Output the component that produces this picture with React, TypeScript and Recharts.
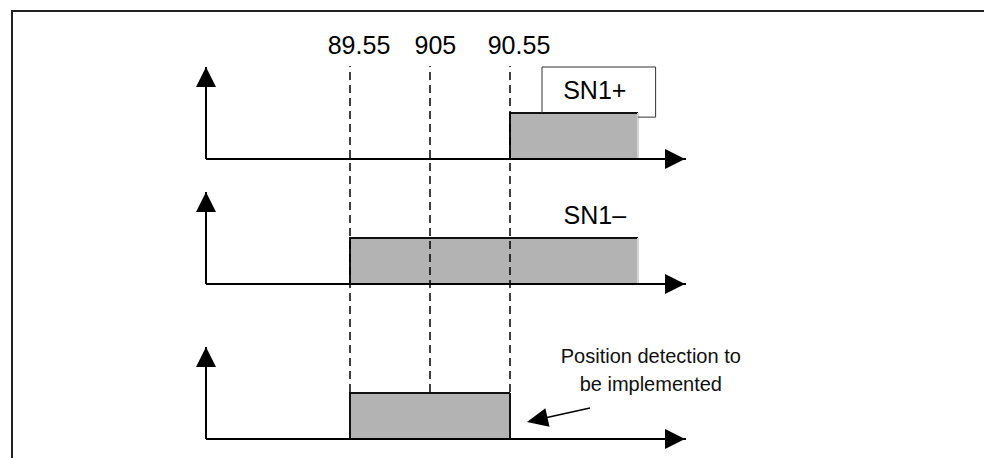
import React from "react"
import { ComposedChart, Area, Line, XAxis, YAxis, ReferenceLine, ReferenceDot } from "recharts"

document.body.style.margin = "0"

const FONT = "'Liberation Sans', Arial, sans-serif"

// time axis (position) and the three marked positions
const timeDomain = [88.65, 91.65]
const markPositions = [89.55, 90.05, 90.55]
const markLabels = ["89.55", "905", "90.55"]

// signal levels: low / high, axis top
const levelDomain = [0, 2]
const signalLow = 0
const signalHigh = 1

// pulse edges [rise, fall] per channel
const sn1PlusEdges = [90.55, 91.35]
const sn1MinusEdges = [89.55, 91.35]
const detectionEdges = [89.55, 90.55]

// channel names and where they sit (time, level)
const channelNames = ["SN1+", "SN1\u2013"]
const channelNameAt = [91.08, 1.5]

// callout box round the SN1+ name (visible edges only)
const sn1PlusBoxT = [90.75, 90.75, 91.46, 91.46, 91.35]
const sn1PlusBoxV = [1, 2, 2, 0.91, 0.91]

// note in the bottom channel
const noteLines = ["Position detection to", "be implemented"]
const noteT = 91.43
const noteV = [1.815, 1.2]
const noteArrowT = [91.05, 90.656]
const noteArrowV = [0.674, 0.37]

const pulse = (edges: number[]) => [
  { t: edges[0], v: signalLow },
  { t: edges[0], v: signalHigh },
  { t: edges[1], v: signalHigh },
  { t: edges[1], v: signalLow },
]

const UpArrow = (p: any) => (
  <polygon points={`${p.cx},${p.cy} ${p.cx - 10},${p.cy + 20} ${p.cx + 10},${p.cy + 20}`} fill="#000" />
)

const RightArrow = (p: any) => (
  <polygon points={`${p.cx - 1},${p.cy} ${p.cx - 21},${p.cy - 10} ${p.cx - 21},${p.cy + 10}`} fill="#000" />
)

const NoteArrow = (p: any) => {
  const { x1, y1, x2, y2 } = p
  const dx = x2 - x1
  const dy = y2 - y1
  const len = Math.sqrt(dx * dx + dy * dy)
  const ux = dx / len
  const uy = dy / len
  const bx = x2 - ux * 21
  const by = y2 - uy * 21
  const w = 9.5
  return (
    <g>
      <line x1={x1} y1={y1} x2={bx + ux * 4} y2={by + uy * 4} stroke="#000" strokeWidth={1.5} />
      <polygon
        points={`${x2},${y2} ${bx - uy * w},${by + ux * w} ${bx + uy * w},${by - ux * w}`}
        fill="#000"
      />
    </g>
  )
}

const nameShape = (name: string) => (p: any) => (
  <text x={p.cx} y={p.cy} textAnchor="middle" dominantBaseline="central" fontSize={25} fontFamily={FONT} fill="#000">
    {name}
  </text>
)

const noteShape = (text: string) => (p: any) => (
  <text x={p.cx} y={p.cy} textAnchor="middle" dominantBaseline="central" fontSize={20} fontFamily={FONT} fill="#111">
    {text}
  </text>
)

function Channel({ top, edges, rightEdge, children }: { top: number; edges: number[]; rightEdge: string; children?: React.ReactNode }) {
  const data = pulse(edges)
  return (
    <div style={{ position: "absolute", left: 0, top: top - 10 }}>
      <ComposedChart width={984} height={112} margin={{ top: 10, right: 298, bottom: 10, left: 206 }}>
        <XAxis type="number" dataKey="t" domain={timeDomain} allowDataOverflow hide />
        <YAxis type="number" domain={levelDomain} allowDataOverflow hide />
        <Area data={data} dataKey="v" type="linear" fill="#b3b3b3" fillOpacity={1} stroke="none" isAnimationActive={false} />
        <Line data={data.slice(0, 3)} dataKey="v" type="linear" stroke="#111" strokeWidth={2} dot={false} isAnimationActive={false} />
        <Line data={data.slice(2)} dataKey="v" type="linear" stroke={rightEdge} strokeWidth={2} dot={false} isAnimationActive={false} />
        {/* axes with arrow heads */}
        <ReferenceLine y={levelDomain[0]} stroke="#000" strokeWidth={2} ifOverflow="visible" />
        <ReferenceLine x={timeDomain[0]} stroke="#000" strokeWidth={2} ifOverflow="visible" />
        <ReferenceDot x={timeDomain[1]} y={levelDomain[0]} shape={RightArrow} ifOverflow="visible" />
        <ReferenceDot x={timeDomain[0]} y={levelDomain[1]} shape={UpArrow} ifOverflow="visible" />
        {children}
      </ComposedChart>
    </div>
  )
}

export default function App() {
  const boxSegments = sn1PlusBoxT.slice(1).map((t, i) => [
    { x: sn1PlusBoxT[i], y: sn1PlusBoxV[i] },
    { x: t, y: sn1PlusBoxV[i + 1] },
  ])

  return (
    <div style={{ position: "relative", width: 984, height: 458, background: "#fff", overflow: "hidden" }}>
      <div
        style={{
          position: "absolute",
          left: 11,
          top: 10,
          width: 973,
          height: 448,
          boxSizing: "border-box",
          borderTop: "2px solid #222",
          borderLeft: "2px solid #222",
        }}
      />

      <Channel top={67} edges={sn1PlusEdges} rightEdge="#d4d4d4">
        {boxSegments.map((seg, i) => (
          <ReferenceLine key={i} segment={seg} stroke="#333" strokeWidth={1} ifOverflow="visible" />
        ))}
        <ReferenceDot x={channelNameAt[0]} y={channelNameAt[1]} shape={nameShape(channelNames[0])} ifOverflow="visible" />
      </Channel>

      <Channel top={192} edges={sn1MinusEdges} rightEdge="#d4d4d4">
        <ReferenceDot x={channelNameAt[0]} y={channelNameAt[1]} shape={nameShape(channelNames[1])} ifOverflow="visible" />
      </Channel>

      <Channel top={347} edges={detectionEdges} rightEdge="#111">
        {noteLines.map((line, i) => (
          <ReferenceDot key={i} x={noteT} y={noteV[i]} shape={noteShape(line)} ifOverflow="visible" />
        ))}
        <ReferenceLine
          segment={[
            { x: noteArrowT[0], y: noteArrowV[0] },
            { x: noteArrowT[1], y: noteArrowV[1] },
          ]}
          shape={NoteArrow}
          ifOverflow="visible"
        />
      </Channel>

      {/* dashed position markers across the channels */}
      <div style={{ position: "absolute", left: 0, top: 0 }}>
        <ComposedChart
          width={984}
          height={400}
          data={[{ t: timeDomain[0] }, { t: timeDomain[1] }]}
          margin={{ top: 66, right: 298, bottom: 8, left: 206 }}
        >
          <XAxis type="number" dataKey="t" domain={timeDomain} allowDataOverflow hide />
          <YAxis type="number" domain={[0, 1]} allowDataOverflow hide />
          {markPositions.map((pos, i) => (
            <ReferenceLine
              key={pos}
              x={pos}
              stroke="#000"
              strokeWidth={1.5}
              strokeDasharray="8 5"
              label={(props: any) => (
                <text
                  x={props.viewBox.x + markLabels[i].length * 1.8}
                  y={props.viewBox.y - 21.5}
                  textAnchor="middle"
                  dominantBaseline="central"
                  fontSize={25}
                  fontFamily={FONT}
                  fill="#000"
                >
                  {markLabels[i]}
                </text>
              )}
            />
          ))}
        </ComposedChart>
      </div>
    </div>
  )
}
